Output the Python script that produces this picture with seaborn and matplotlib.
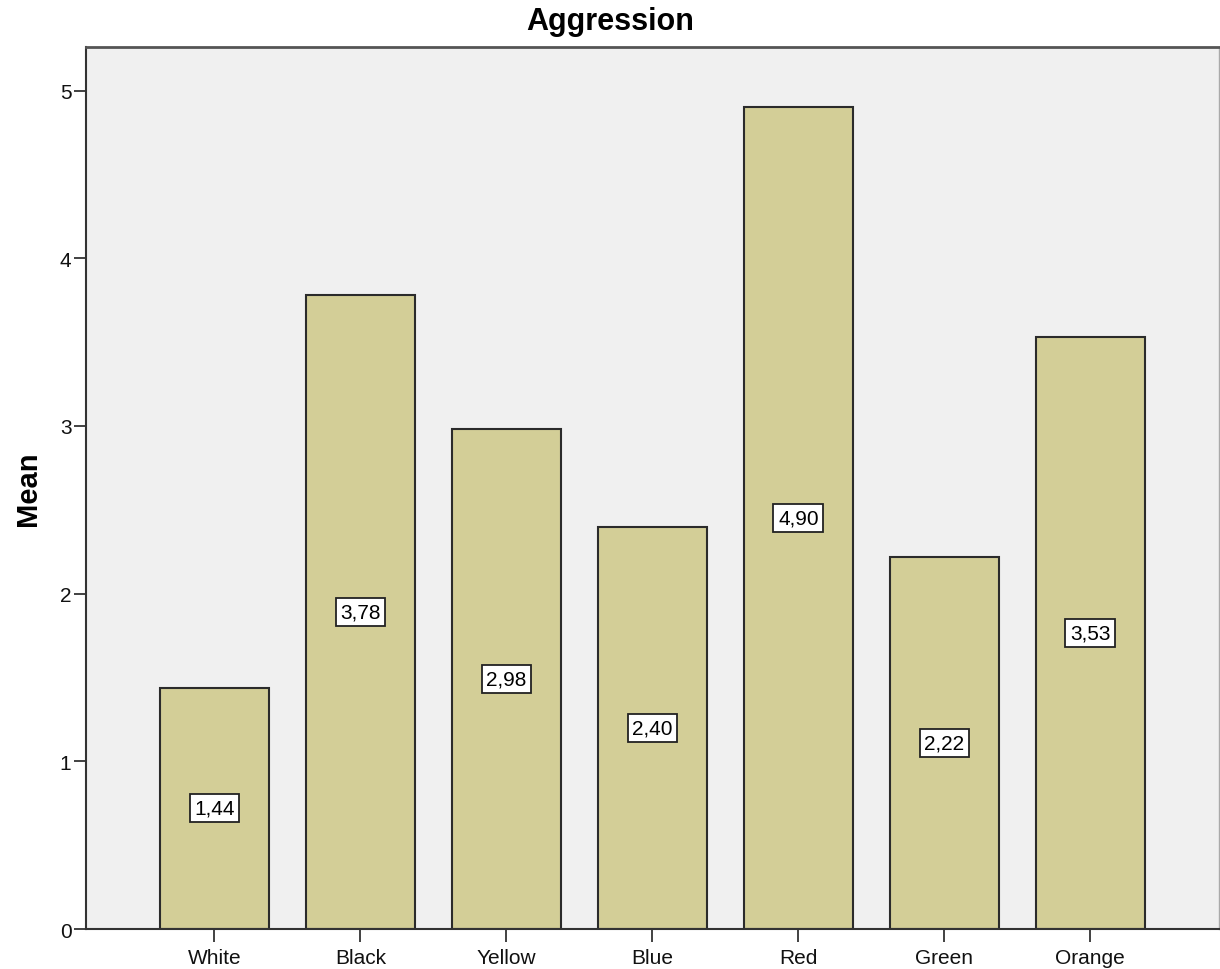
import pandas as pd
import matplotlib
matplotlib.use('Agg')
import matplotlib.pyplot as plt
import seaborn as sns

# Data
colours = ['White', 'Black', 'Yellow', 'Blue', 'Red', 'Green', 'Orange']
mean_aggression = [1.44, 3.78, 2.98, 2.40, 4.90, 2.22, 3.53]
y_ticks = [0, 1, 2, 3, 4, 5]

df = pd.DataFrame({'colour': colours, 'mean': mean_aggression})

sns.set_style('white')
plt.rcParams['font.family'] = ['Liberation Sans', 'DejaVu Sans']
plt.rcParams['text.color'] = 'black'
plt.rcParams['axes.labelcolor'] = 'black'

fig = plt.figure(figsize=(12.2, 9.7), dpi=100)
ax = fig.add_axes([0.0705, 0.0412, 0.9285, 0.9093])
ax.set_facecolor('#f0f0f0')

sns.barplot(data=df, x='colour', y='mean', color='#d3ce97', width=0.75,
            edgecolor='#2b2b2b', linewidth=1.5, saturation=1, ax=ax)

# Value labels in the middle of each bar
for i, v in enumerate(mean_aggression):
    ax.text(i, v / 2, f'{v:.2f}'.replace('.', ','), ha='center', va='center',
            fontsize=15, color='black',
            bbox=dict(boxstyle='square,pad=0.22', fc='white', ec='#222222', lw=1.3))

ax.set_xlim(-0.88, 6.88)
ax.set_ylim(0, 5.26)
ax.set_yticks(y_ticks)
ax.set_yticklabels([str(t) for t in y_ticks])
ax.tick_params(axis='both', direction='out', length=9, width=1.3, color='#333333',
               labelsize=15, bottom=True, left=True, labelcolor='#111111')
ax.tick_params(axis='x', pad=4.5)
ax.tick_params(axis='y', pad=1.5)

# Title is centred on the figure, not on the axes
fig.text(0.5, 1 - 22 / 970, 'Aggression', ha='center', va='center',
         fontsize=22, fontweight='bold', color='black')
ax.set_xlabel('')
ax.set_ylabel('Mean', fontsize=21, fontweight='bold', labelpad=13)

for side in ['left', 'bottom', 'top']:
    ax.spines[side].set_color('#333333')
    ax.spines[side].set_linewidth(1.5)
ax.spines['top'].set_color('#555555')
ax.spines['top'].set_linewidth(2.0)
ax.spines['right'].set_color('#aaaaaa')
ax.spines['right'].set_linewidth(1.0)

plt.savefig('out.png', dpi=100)
